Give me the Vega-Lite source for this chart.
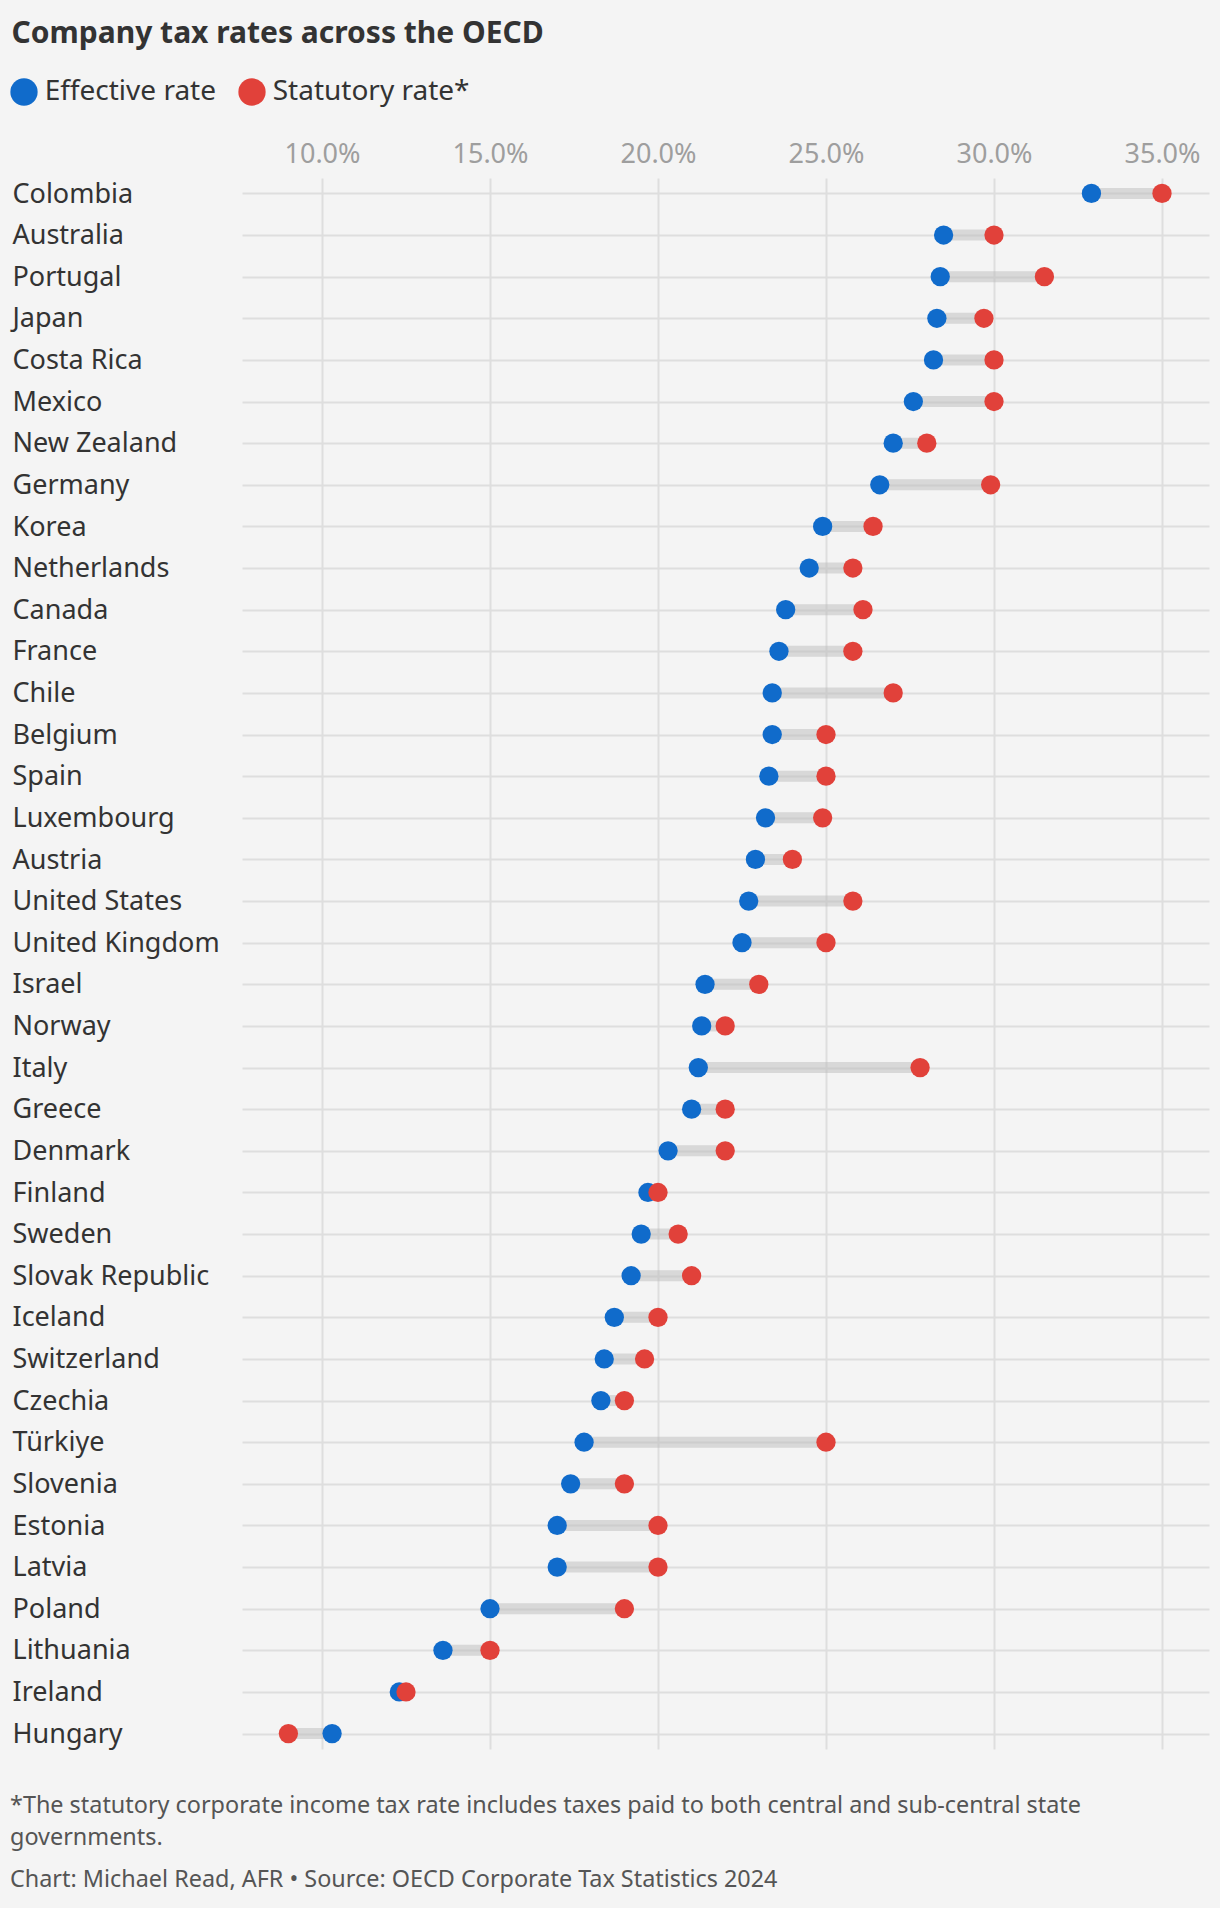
{
  "$schema": "https://vega.github.io/schema/vega-lite/v6.json",
  "width": 967,
  "height": 1571,
  "autosize": {"type": "none"},
  "padding": {"left": 242, "top": 178, "right": 11, "bottom": 159},
  "background": "#f4f4f4",
  "config": {"font": "Noto Sans", "view": {"stroke": null}},
  "title": {
    "text": ["*The statutory corporate income tax rate includes taxes paid to both central and sub-central state", "governments."],
    "subtitle": "Chart: Michael Read, AFR • Source: OECD Corporate Tax Statistics 2024",
    "orient": "bottom",
    "anchor": "start",
    "frame": "group",
    "dx": -232,
    "offset": 64,
    "fontSize": 23.4,
    "fontWeight": "normal",
    "color": "#555555",
    "lineHeight": 32,
    "subtitleFontSize": 23.4,
    "subtitleColor": "#555555",
    "subtitlePadding": 19,
    "baseline": "alphabetic"
  },
  "data": {
    "values": [
      {"country": "Colombia", "Effective rate": 0.329, "Statutory rate*": 0.35},
      {"country": "Australia", "Effective rate": 0.285, "Statutory rate*": 0.30},
      {"country": "Portugal", "Effective rate": 0.284, "Statutory rate*": 0.315},
      {"country": "Japan", "Effective rate": 0.283, "Statutory rate*": 0.297},
      {"country": "Costa Rica", "Effective rate": 0.282, "Statutory rate*": 0.30},
      {"country": "Mexico", "Effective rate": 0.276, "Statutory rate*": 0.30},
      {"country": "New Zealand", "Effective rate": 0.270, "Statutory rate*": 0.28},
      {"country": "Germany", "Effective rate": 0.266, "Statutory rate*": 0.299},
      {"country": "Korea", "Effective rate": 0.249, "Statutory rate*": 0.264},
      {"country": "Netherlands", "Effective rate": 0.245, "Statutory rate*": 0.258},
      {"country": "Canada", "Effective rate": 0.238, "Statutory rate*": 0.261},
      {"country": "France", "Effective rate": 0.236, "Statutory rate*": 0.258},
      {"country": "Chile", "Effective rate": 0.234, "Statutory rate*": 0.27},
      {"country": "Belgium", "Effective rate": 0.234, "Statutory rate*": 0.25},
      {"country": "Spain", "Effective rate": 0.233, "Statutory rate*": 0.25},
      {"country": "Luxembourg", "Effective rate": 0.232, "Statutory rate*": 0.249},
      {"country": "Austria", "Effective rate": 0.229, "Statutory rate*": 0.24},
      {"country": "United States", "Effective rate": 0.227, "Statutory rate*": 0.258},
      {"country": "United Kingdom", "Effective rate": 0.225, "Statutory rate*": 0.25},
      {"country": "Israel", "Effective rate": 0.214, "Statutory rate*": 0.23},
      {"country": "Norway", "Effective rate": 0.213, "Statutory rate*": 0.22},
      {"country": "Italy", "Effective rate": 0.212, "Statutory rate*": 0.278},
      {"country": "Greece", "Effective rate": 0.210, "Statutory rate*": 0.22},
      {"country": "Denmark", "Effective rate": 0.203, "Statutory rate*": 0.22},
      {"country": "Finland", "Effective rate": 0.197, "Statutory rate*": 0.20},
      {"country": "Sweden", "Effective rate": 0.195, "Statutory rate*": 0.206},
      {"country": "Slovak Republic", "Effective rate": 0.192, "Statutory rate*": 0.21},
      {"country": "Iceland", "Effective rate": 0.187, "Statutory rate*": 0.20},
      {"country": "Switzerland", "Effective rate": 0.184, "Statutory rate*": 0.196},
      {"country": "Czechia", "Effective rate": 0.183, "Statutory rate*": 0.19},
      {"country": "Türkiye", "Effective rate": 0.178, "Statutory rate*": 0.25},
      {"country": "Slovenia", "Effective rate": 0.174, "Statutory rate*": 0.19},
      {"country": "Estonia", "Effective rate": 0.170, "Statutory rate*": 0.20},
      {"country": "Latvia", "Effective rate": 0.170, "Statutory rate*": 0.20},
      {"country": "Poland", "Effective rate": 0.150, "Statutory rate*": 0.19},
      {"country": "Lithuania", "Effective rate": 0.136, "Statutory rate*": 0.15},
      {"country": "Ireland", "Effective rate": 0.123, "Statutory rate*": 0.125},
      {"country": "Hungary", "Effective rate": 0.103, "Statutory rate*": 0.09}
    ]
  },
  "encoding": {
    "y": {
      "field": "country",
      "type": "nominal",
      "sort": null,
      "scale": {"type": "point", "padding": 0.37},
      "axis": {
        "title": "Company tax rates across the OECD",
        "titleAngle": 0,
        "titleAlign": "left",
        "titleBaseline": "alphabetic",
        "titleX": -231,
        "titleY": -135.3,
        "titleFontSize": 30,
        "titleFontWeight": "bold",
        "titleColor": "#333333",
        "labelAlign": "left",
        "labelPadding": 230,
        "labelFontSize": 27,
        "labelColor": "#333333",
        "labelBaseline": "alphabetic",
        "labelOffset": 8.6,
        "labelLimit": 0,
        "ticks": false,
        "tickSize": 0,
        "domain": false,
        "grid": true,
        "gridColor": "#dedede",
        "gridWidth": 2
      }
    }
  },
  "layer": [
    {
      "mark": {"type": "rule", "strokeWidth": 11, "color": "#bcbcbc", "opacity": 0.5},
      "encoding": {
        "x": {
          "field": "Effective rate",
          "type": "quantitative",
          "scale": {"domain": [0.07619, 0.36399], "nice": false, "zero": false},
          "axis": {
            "orient": "top",
            "title": null,
            "values": [0.1, 0.15, 0.2, 0.25, 0.3, 0.35],
            "format": ".1%",
            "labelFontSize": 27,
            "labelColor": "#9e9e9e",
            "labelBaseline": "alphabetic",
            "labelPadding": 15.7,
            "labelFlush": false,
            "ticks": false,
            "tickSize": 0,
            "domain": false,
            "grid": true,
            "gridColor": "#dedede",
            "gridWidth": 2
          }
        },
        "x2": {"field": "Statutory rate*"}
      }
    },
    {
      "transform": [{"fold": ["Effective rate", "Statutory rate*"], "as": ["type", "rate"]}],
      "mark": {"type": "point", "filled": true, "opacity": 1, "size": 372},
      "encoding": {
        "x": {
          "field": "rate",
          "type": "quantitative",
          "scale": {"domain": [0.07619, 0.36399], "nice": false, "zero": false},
          "axis": {
            "orient": "top",
            "title": null,
            "values": [0.1, 0.15, 0.2, 0.25, 0.3, 0.35],
            "format": ".1%",
            "labelFontSize": 27,
            "labelColor": "#9e9e9e",
            "labelBaseline": "alphabetic",
            "labelPadding": 15.7,
            "labelFlush": false,
            "ticks": false,
            "tickSize": 0,
            "domain": false,
            "grid": true,
            "gridColor": "#dedede",
            "gridWidth": 2
          }
        },
        "color": {
          "field": "type",
          "type": "nominal",
          "scale": {"domain": ["Effective rate", "Statutory rate*"], "range": ["#106bcb", "#e1413a"]},
          "legend": {
            "orient": "none",
            "legendX": -232,
            "legendY": -100,
            "direction": "horizontal",
            "title": null,
            "symbolSize": 745,
            "symbolType": "circle",
            "symbolStrokeWidth": 0,
            "symbolOpacity": 1,
            "labelFontSize": 28,
            "labelColor": "#333333",
            "labelOffset": 6.7,
            "columnPadding": 21,
            "padding": 0,
            "labelLimit": 0,
            "encode": {"symbols": {"update": {"size": {"value": 745}}}}
          }
        }
      }
    }
  ]
}
